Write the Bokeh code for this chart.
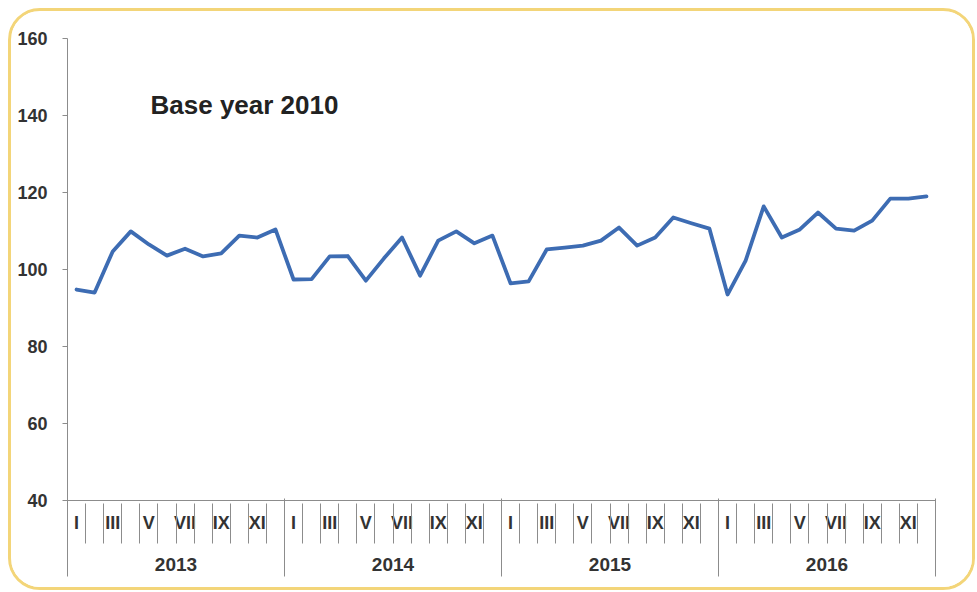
from bokeh.plotting import figure
from bokeh.models import FixedTicker, LinearAxis, Label, Range1d
from bokeh.embed import file_html
from bokeh.resources import INLINE

# ---- data ----
years = ["2013", "2014", "2015", "2016"]
month_labels = ["I", "II", "III", "IV", "V", "VI", "VII", "VIII", "IX", "X", "XI", "XII"]
shown_months = ["I", "III", "V", "VII", "IX", "XI"]
y_ticks = [40, 60, 80, 100, 120, 140, 160]

index_2013 = [94.8, 94.0, 104.7, 109.9, 106.5, 103.6, 105.4, 103.4, 104.2, 108.8, 108.3, 110.4]
index_2014 = [97.4, 97.5, 103.4, 103.5, 97.1, 102.9, 108.3, 98.4, 107.5, 109.9, 106.8, 108.8]
index_2015 = [96.4, 96.9, 105.2, 105.7, 106.2, 107.5, 110.9, 106.2, 108.3, 113.5, 112.0, 110.6]
index_2016 = [93.5, 102.3, 116.4, 108.3, 110.4, 114.8, 110.6, 110.1, 112.7, 118.4, 118.4, 119.0]
title_text = "Base year 2010"

values = index_2013 + index_2014 + index_2015 + index_2016
n_months = len(values)
x = [i + 0.5 for i in range(n_months)]

FONT = "Liberation Sans"
TXT = "#333333"
AX = "#8c8c8c"

p = figure(width=967, height=582, output_backend="svg", toolbar_location=None,
           x_range=Range1d(0, n_months), y_range=Range1d(40, 160),
           x_axis_location=None,
           min_border_left=56, min_border_right=43, min_border_top=27, min_border_bottom=93)
p.outline_line_color = None
p.grid.visible = False
p.background_fill_color = "white"
p.border_fill_color = "white"
p.styles = {"border": "3px solid #F3D579", "border-radius": "32px",
            "margin-left": "8px", "margin-top": "8px", "overflow": "hidden"}

p.line(x, values, line_width=3.8, color="#3D6CB3", line_join="round", line_cap="round")

# y axis
ya = p.yaxis[0]
ya.ticker = FixedTicker(ticks=y_ticks)
ya.major_tick_out = 5
ya.major_tick_in = 0
ya.minor_tick_out = 0
ya.minor_tick_in = 0
ya.axis_line_color = AX
ya.major_tick_line_color = AX
ya.major_label_standoff = 15
ya.major_label_text_font = FONT
ya.major_label_text_font_style = "bold"
ya.major_label_text_font_size = "18px"
ya.major_label_text_color = TXT

# A: month labels (axis line at the bottom of the plot)
month_ticks = [i + 0.5 for i in range(0, n_months, 2)]
month_over = {t: shown_months[k % len(shown_months)] for k, t in enumerate(month_ticks)}
month_axis = LinearAxis(
    ticker=FixedTicker(ticks=month_ticks, minor_ticks=[]),
    major_label_overrides=month_over,
    major_tick_out=0, major_tick_in=0, minor_tick_out=0, minor_tick_in=0,
    axis_line_color=AX,
    major_label_standoff=12,
    major_label_text_font=FONT, major_label_text_font_size="18px",
    major_label_text_font_style="bold",
    major_label_text_color=TXT,
)
p.add_layout(month_axis, "below")

# B: year labels + month boundary ticks
year_ticks = [6 + 12 * k for k in range(len(years))]
year_over = {t: years[k] for k, t in enumerate(year_ticks)}
year_axis = LinearAxis(
    ticker=FixedTicker(ticks=year_ticks, minor_ticks=list(range(n_months + 1))),
    major_label_overrides=year_over,
    major_tick_out=0, major_tick_in=0,
    minor_tick_out=8, minor_tick_in=32,
    minor_tick_line_color=AX, axis_line_color=None,
    major_label_standoff=14,
    major_label_text_font=FONT, major_label_text_font_size="19px",
    major_label_text_font_style="bold",
    major_label_text_color=TXT,
)
p.add_layout(year_axis, "below")

# C: year separators
bounds = [12 * k for k in range(len(years) + 1)]
sep_axis = LinearAxis(
    ticker=FixedTicker(ticks=bounds, minor_ticks=[]),
    major_label_overrides={b: "" for b in bounds},
    major_tick_out=3, major_tick_in=75, minor_tick_out=0, minor_tick_in=0,
    major_tick_line_color=AX, axis_line_color=None,
    major_label_standoff=0, major_label_text_font_size="0px",
)
p.add_layout(sep_axis, "below")

p.add_layout(Label(x=4.59, y=142.6, text=title_text, text_font=FONT, text_font_size="26px",
                   text_font_style="bold", text_color="#222222", text_baseline="middle"))

open("out.html", "w").write(file_html(p, INLINE))
